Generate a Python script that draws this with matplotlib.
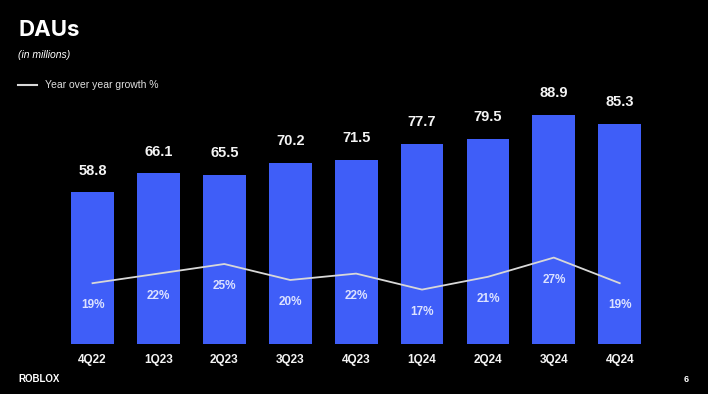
"""
Roblox DAUs por trimestre com crescimento anual (slide 6).
"""
import matplotlib
matplotlib.use('Agg')
import matplotlib.pyplot as plt
import numpy as np

quarters = ["4Q22", "1Q23", "2Q23", "3Q23", "4Q23", "1Q24", "2Q24", "3Q24", "4Q24"]
daus     = [58.8, 66.1, 65.5, 70.2, 71.5, 77.7, 79.5, 88.9, 85.3]
yoy_pct  = [19, 22, 25, 20, 22, 17, 21, 27, 19]

BG      = "#000000"
BAR_COR = "#3F5EF8"
LINE_COR = "#D8D8D8"
plt.rcParams['font.family'] = ['Liberation Sans', 'DejaVu Sans']

W, H = 708, 394
fig = plt.figure(figsize=(W / 100, H / 100), dpi=100, facecolor=BG)

# eixo principal: baseline em y=344px, topo em y=90px
ax = fig.add_axes([40 / W, 1 - 344 / H, 630 / W, 254 / H])
ax.set_facecolor(BG)
x = np.arange(len(quarters))
ax.bar(x, daus, width=0.65, color=BAR_COR, zorder=2)
ax.set_xlim(-0.797, 8.763)
ax.set_ylim(0, 254 / 2.58)

for xi, v in zip(x, daus):
    ax.annotate(f"{v:.1f}", (xi, v), xytext=(0, 15.5), textcoords='offset points',
                ha='center', va='center', color='#F4F4F4', fontsize=10.5, fontweight='bold')

ax.set_xticks(x)
ax.set_xticklabels(quarters, color='#F4F4F4', fontsize=8.5, fontweight='bold')
ax.tick_params(axis='x', length=0, pad=7)
ax.set_yticks([])
for s in ax.spines.values():
    s.set_visible(False)

# linha de crescimento em eixo gemeo
ax2 = ax.twinx()
ax2.set_ylim(0, 254 / 3.2)
ax2.plot(x, yoy_pct, color=LINE_COR, linewidth=1.3, zorder=3)
for xi, g in zip(x, yoy_pct):
    ax2.annotate(f"{g}%", (xi, g), xytext=(0, -16), textcoords='offset points',
                 ha='center', va='center', color='#DCE2FF', fontsize=8.5, fontweight='bold')
ax2.set_yticks([])
for s in ax2.spines.values():
    s.set_visible(False)

# titulo e legenda
fig.text(18 / W, 1 - 30 / H, "DAUs", color='white', fontsize=16, fontweight='bold',
         va='center', ha='left', family=['Inter', 'DejaVu Sans'])
fig.text(18 / W, 1 - 55 / H, "(in millions)", color='white', fontsize=7.5,
         style='italic', va='center', ha='left')
fig.add_artist(plt.Line2D([18 / W, 37 / W], [1 - 85 / H, 1 - 85 / H],
                          color=LINE_COR, linewidth=1.5))
fig.text(45 / W, 1 - 85 / H, "Year over year growth %", color='#E0E0E0', fontsize=7.5,
         va='center', ha='left')

# rodape
fig.text(18 / W, 1 - 379 / H, "ROBLOX", color='white', fontsize=7, fontweight='bold',
         va='center', ha='left')
fig.text(686 / W, 1 - 379 / H, "6", color='white', fontsize=6.5, fontweight='bold',
         va='center', ha='center')

fig.savefig("out.png", dpi=100, facecolor=BG)
